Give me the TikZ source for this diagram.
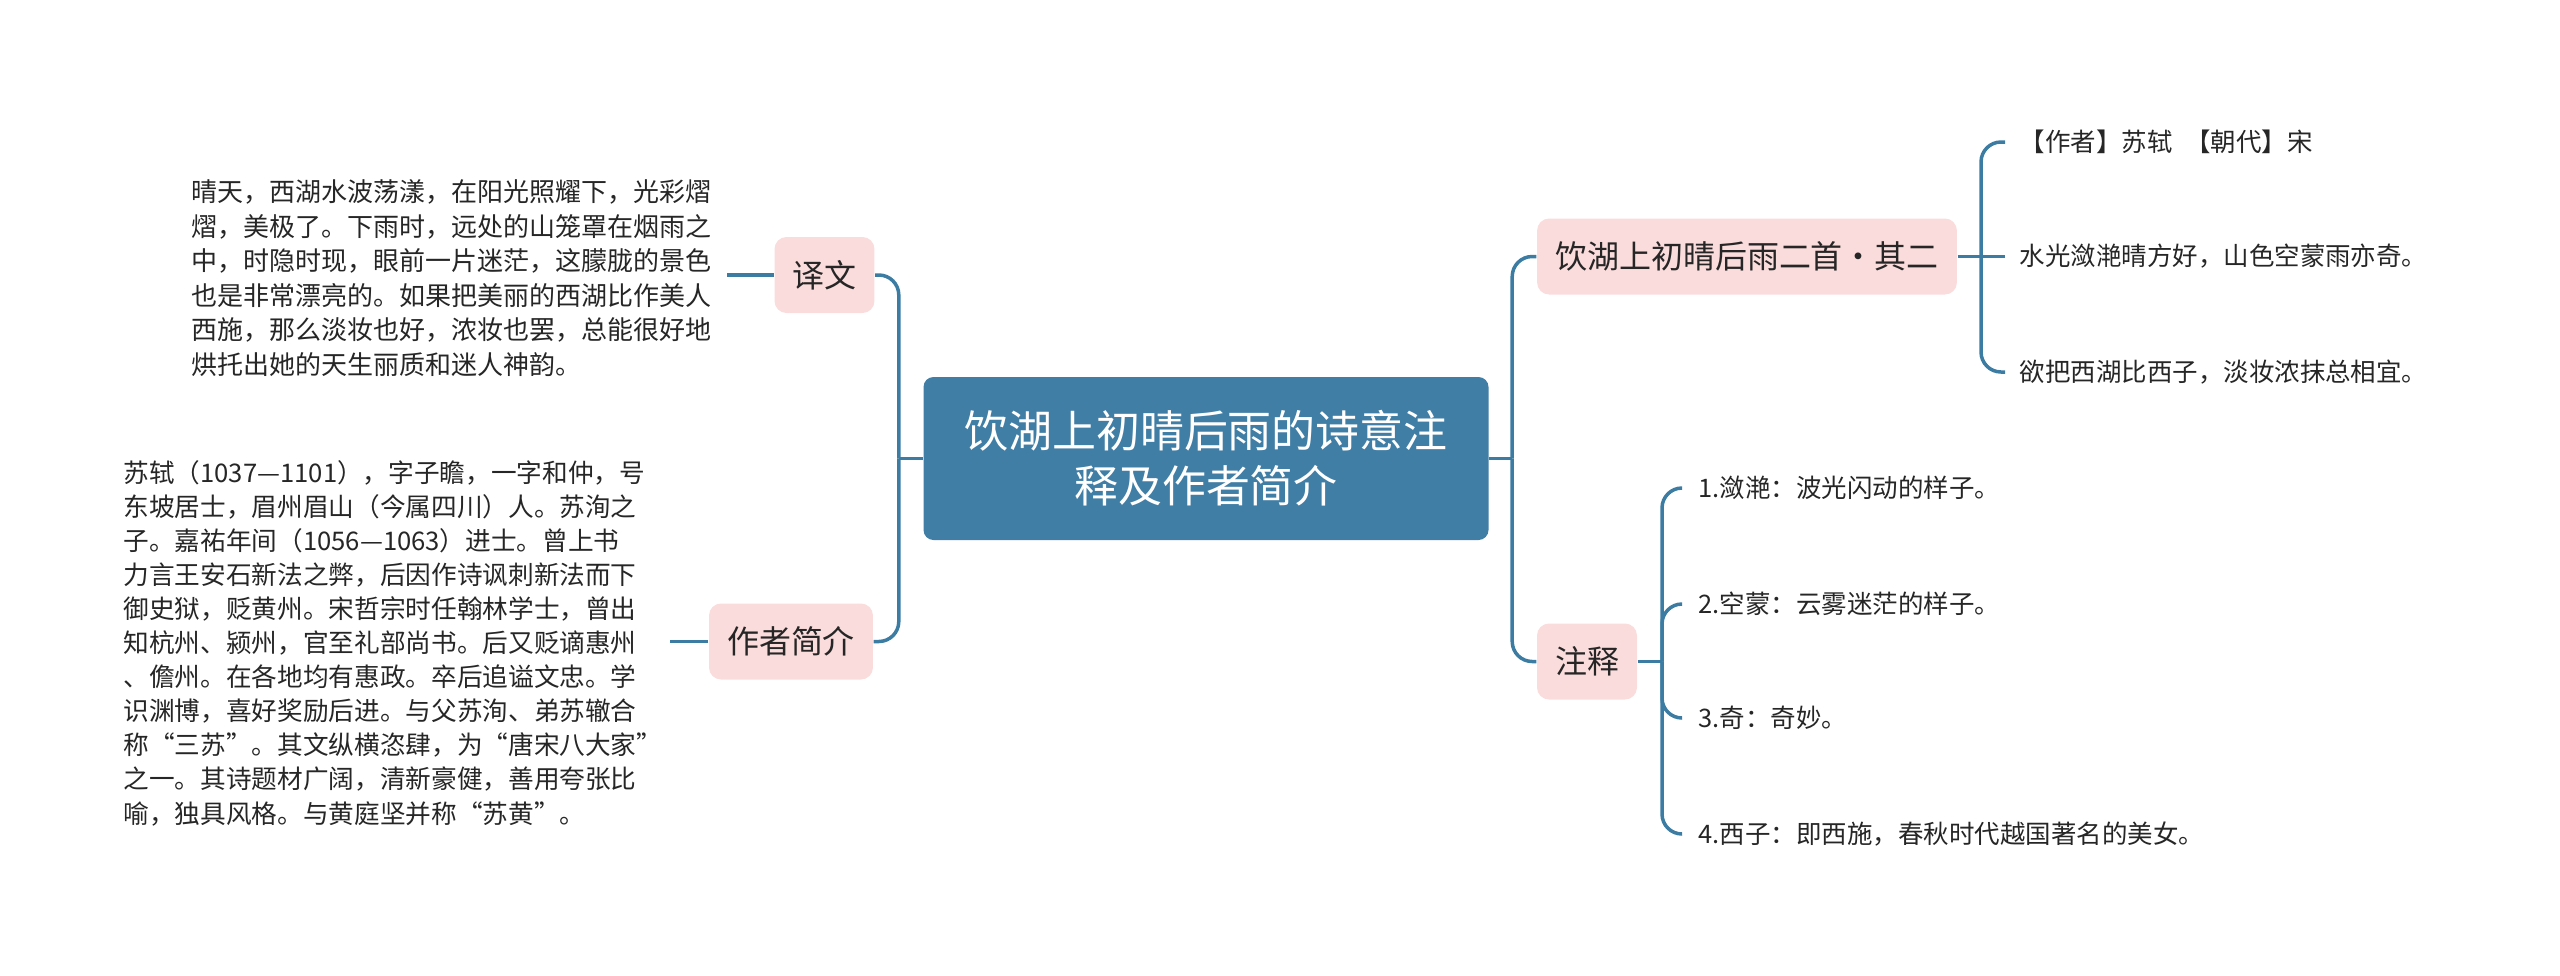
\documentclass[tikz,border=0pt]{standalone}
\usepackage{fontspec}
\setmainfont{Noto Sans CJK SC}
\usetikzlibrary{positioning}
\definecolor{rootblue}{RGB}{64,126,165}
\definecolor{linkblue}{RGB}{60,124,163}
\definecolor{tagpink}{RGB}{251,220,220}
\definecolor{inkgray}{RGB}{38,38,38}
\begin{document}
\begin{tikzpicture}[
  root/.style={fill=rootblue, rounded corners=0.1cm, minimum width=5.65cm, minimum height=1.63cm, align=center, text=white, font=\fontsize{12.5}{15.6}\selectfont},
  topic/.style={fill=tagpink, rounded corners=0.12cm, minimum height=0.76cm, inner xsep=0.18cm, text=inkgray, font=\fontsize{9.1}{11}\selectfont},
  note/.style={align=left, inner ysep=0pt, text=inkgray, font=\fontsize{7.4}{9.8}\selectfont},
  leaf/.style={inner ysep=0pt, inner xsep=0.14cm, text=inkgray, font=\fontsize{7.25}{9}\selectfont},
  link/.style={draw=linkblue, line width=0.035cm},
  elbow/.style={link, rounded corners=0.2cm}
]
\useasboundingbox (0,0) rectangle (25.6,-9.75);
\node[root] (root) at (12.06,-4.585) {饮湖上初晴后雨的诗意注\\释及作者简介};
\node[topic] (yiwen) at (8.245,-2.75) {译文};
\node[topic] (zuozhe) at (7.91,-6.415) {作者简介};
\node[topic] (poem) at (17.47,-2.565) {饮湖上初晴后雨二首·其二};
\node[topic] (zhushi) at (15.87,-6.615) {注释};
\node[note, anchor=east, inner xsep=0.15cm] (yiwentxt) at (7.27,-2.78) {晴天，西湖水波荡漾，在阳光照耀下，光彩熠\\熠，美极了。下雨时，远处的山笼罩在烟雨之\\中，时隐时现，眼前一片迷茫，这朦胧的景色\\也是非常漂亮的。如果把美丽的西湖比作美人\\西施，那么淡妆也好，浓妆也罢，总能很好地\\烘托出她的天生丽质和迷人神韵。};
\node[note, anchor=east, inner xsep=0.07cm, font=\fontsize{7.3}{9.7}\selectfont] (bio) at (6.70,-6.43) {苏轼（1037—1101），字子瞻，一字和仲，号\\东坡居士，眉州眉山（今属四川）人。苏洵之\\子。嘉祐年间（1056—1063）进士。曾上书\\力言王安石新法之弊，后因作诗讽刺新法而下\\御史狱，贬黄州。宋哲宗时任翰林学士，曾出\\知杭州、颍州，官至礼部尚书。后又贬谪惠州\\、儋州。在各地均有惠政。卒后追谥文忠。学\\识渊博，喜好奖励后进。与父苏洵、弟苏辙合\\称“三苏”。其文纵横恣肆，为“唐宋八大家”\\之一。其诗题材广阔，清新豪健，善用夸张比\\喻，独具风格。与黄庭坚并称“苏黄”。};
\node[leaf, anchor=west] (poem1) at (20.05,-1.42) {【作者】苏轼\hspace{0.5em}【朝代】宋};
\node[leaf, anchor=west] (poem2) at (20.05,-2.565) {水光潋滟晴方好，山色空蒙雨亦奇。};
\node[leaf, anchor=west] (poem3) at (20.05,-3.72) {欲把西湖比西子，淡妆浓抹总相宜。};
\node[leaf, anchor=west, inner xsep=0.16cm] (note1) at (16.82,-4.88) {1.潋滟：波光闪动的样子。};
\node[leaf, anchor=west, inner xsep=0.16cm] (note2) at (16.82,-6.04) {2.空蒙：云雾迷茫的样子。};
\node[leaf, anchor=west, inner xsep=0.16cm] (note3) at (16.82,-7.18) {3.奇：奇妙。};
\node[leaf, anchor=west, inner xsep=0.16cm] (note4) at (16.82,-8.34) {4.西子：即西施，春秋时代越国著名的美女。};
\coordinate[left=0.24cm of root.west] (jl);
\coordinate[right=0.23cm of root.east] (jr);
\coordinate (jp) at (19.81,-2.565);
\coordinate (jz) at (16.62,-6.615);
\draw[link] (root.west) -- (jl);
\draw[elbow] (jl) |- (yiwen.east);
\draw[elbow] (jl) |- (zuozhe.east);
\draw[link] (root.east) -- (jr);
\draw[elbow] (jr) |- (poem.west);
\draw[elbow] (jr) |- (zhushi.west);
\draw[link] (yiwen.west) -- (yiwen.west -| yiwentxt.east);
\draw[link] (zuozhe.west) -- (zuozhe.west -| bio.east);
\draw[link] (poem.east) -- (poem2.west);
\draw[elbow] (jp) |- (poem1.west);
\draw[elbow] (jp) |- (poem3.west);
\draw[link] (zhushi.east) -- (jz);
\foreach \n in {1,...,4}
  \draw[elbow] (jz) |- (note\n.west);
\end{tikzpicture}
\end{document}
